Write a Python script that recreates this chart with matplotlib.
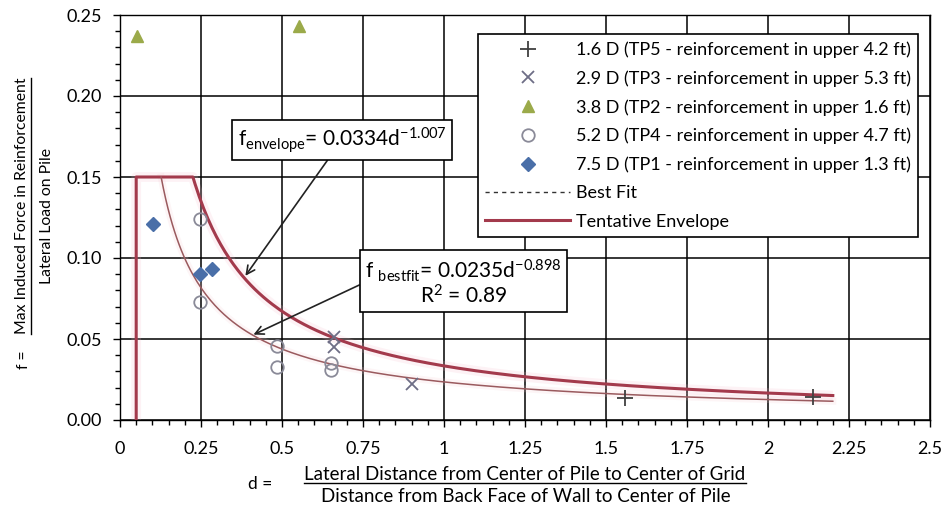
import numpy as np
import matplotlib
matplotlib.use('Agg')
import matplotlib.pyplot as plt
from matplotlib.lines import Line2D
from matplotlib.ticker import MultipleLocator, FormatStrFormatter, FuncFormatter

plt.rcParams['font.family'] = ['Lato', 'DejaVu Sans']
plt.rcParams['mathtext.default'] = 'regular'

# ---------------- data ----------------
tp5_d = [1.56, 2.14]
tp5_f = [0.0136, 0.0143]
tp3_d = [0.66, 0.66, 0.90]
tp3_f = [0.051, 0.045, 0.022]
tp2_d = [0.053, 0.551]
tp2_f = [0.237, 0.243]
tp4_d = [0.248, 0.248, 0.485, 0.485, 0.65, 0.65]
tp4_f = [0.124, 0.073, 0.0455, 0.033, 0.035, 0.031]
tp1_d = [0.102, 0.248, 0.284]
tp1_f = [0.121, 0.090, 0.093]

series_labels = [
    "1.6 D (TP5 - reinforcement in upper 4.2 ft)",
    "2.9 D (TP3 - reinforcement in upper 5.3 ft)",
    "3.8 D (TP2 - reinforcement in upper 1.6 ft)",
    "5.2 D (TP4 - reinforcement in upper 4.7 ft)",
    "7.5 D (TP1 - reinforcement in upper 1.3 ft)",
    "Best Fit",
    "Tentative Envelope",
]

# power-law fits shown on the chart
fit_a, fit_b = 0.0235, -0.898
env_a, env_b = 0.0334, -1.007
env_start_d = 0.05
env_cap = 0.15
curve_end_d = 2.2

x_ticks = [0, 0.25, 0.5, 0.75, 1, 1.25, 1.5, 1.75, 2, 2.25, 2.5]
y_ticks = [0.00, 0.05, 0.10, 0.15, 0.20, 0.25]

# ---------------- figure ----------------
fig = plt.figure(figsize=(9.46, 5.07), dpi=100)
ax = fig.add_axes([120/946, 1-420/507, 810/946, 405/507])

ax.set_xlim(0, 2.5)
ax.set_ylim(0, 0.25)
ax.set_xticks(x_ticks)
ax.set_yticks(y_ticks)
ax.xaxis.set_minor_locator(MultipleLocator(0.05))
ax.yaxis.set_minor_locator(MultipleLocator(0.01))
ax.xaxis.set_major_formatter(FuncFormatter(lambda v, p: f"{v:g}"))
ax.yaxis.set_major_formatter(FormatStrFormatter('%.2f'))
ax.tick_params(which='major', direction='out', length=5, width=1, labelsize=13, colors='black')
ax.tick_params(which='minor', direction='out', length=3.5, width=1)
ax.tick_params(axis='x', pad=10)
ax.tick_params(axis='y', pad=8)
ax.grid(which='major', color='black', lw=1.1)
ax.set_axisbelow(True)
for s in ax.spines.values():
    s.set_color('black')
    s.set_linewidth(1.0)

# envelope
d_cap = (env_cap / env_a) ** (1 / env_b)
dc = np.linspace(d_cap, curve_end_d, 300)
env_x = np.concatenate([[env_start_d, env_start_d], dc])
env_y = np.concatenate([[0.0, env_cap], env_a * dc ** env_b])
ax.plot(env_x, env_y, color='#F4B8C8', lw=7, alpha=0.18, solid_capstyle='butt', zorder=2)
ax.plot(env_x, env_y, color='#A33A4C', lw=2.2, zorder=3)

# best fit
d_fit0 = (env_cap / fit_a) ** (1 / fit_b)
df = np.linspace(d_fit0, curve_end_d, 300)
ax.plot(df, fit_a * df ** fit_b, color='#F4C8D0', lw=5, alpha=0.18, zorder=2)
ax.plot(df, fit_a * df ** fit_b, color='#9A5A5E', lw=1.1, zorder=3)

# data markers
h5, = ax.plot(tp5_d, tp5_f, ls='none', marker='+', ms=11, mew=1.3, color='#404040', zorder=5)
h3, = ax.plot(tp3_d, tp3_f, ls='none', marker='x', ms=9, mew=1.3, color='#6E6E86', zorder=5)
h2, = ax.plot(tp2_d, tp2_f, ls='none', marker='^', ms=9, color='#9BAA4A', zorder=5)
h4, = ax.plot(tp4_d, tp4_f, ls='none', marker='o', ms=9, mfc='none', mew=1.3, mec='#8A8A98', zorder=5)
h1, = ax.plot(tp1_d, tp1_f, ls='none', marker='D', ms=7.5, color='#4A6FA8', zorder=5)

hbf = Line2D([], [], color='#333333', lw=1, ls=(0, (3, 3)))
henv = Line2D([], [], color='#A33A4C', lw=2.2)

leg = ax.legend([h5, h3, h2, h4, h1, hbf, henv], series_labels,
                loc='upper right', bbox_to_anchor=(0.985, 0.953), borderaxespad=0,
                fancybox=False, edgecolor='black', framealpha=1, fontsize=13,
                handlelength=4.7, handletextpad=0.3, labelspacing=0.68, borderpad=0.4)
leg.get_frame().set_linewidth(1.2)
leg.set_zorder(6)

# annotations
ax.annotate(r"f$_{envelope}$= 0.0334d$^{-1.007}$",
            xy=(0.387, 0.089), xytext=(0.685, 0.173), textcoords='data',
            ha='center', va='center', fontsize=15,
            bbox=dict(boxstyle='square,pad=0.25', fc='white', ec='black', lw=1.2),
            arrowprops=dict(arrowstyle='->', color='#222222', lw=1.2,
                            relpos=(0.45, 0), shrinkA=0, shrinkB=0),
            zorder=7)
ax.annotate("f $_{bestfit}$= 0.0235d$^{-0.898}$\nR$^{2}$ = 0.89",
            xy=(0.412, 0.0527), xytext=(1.06, 0.085), textcoords='data',
            ha='center', va='center', fontsize=15, multialignment='center',
            linespacing=1.0,
            bbox=dict(boxstyle='square,pad=0.25', fc='white', ec='black', lw=1.2),
            arrowprops=dict(arrowstyle='->', color='#222222', lw=1.2,
                            relpos=(0, 0.5), shrinkA=0, shrinkB=0),
            zorder=7)

# axis labels (fraction style)
num_y = fig.text(22/946, 1-206/507, "Max Induced Force in Reinforcement",
                 rotation=90, ha='center', va='center', fontsize=11.3)
fig.text(47/946, 1-216/507, "Lateral Load on Pile", rotation=90,
         ha='center', va='center', fontsize=11.3)
fig.text(24/946, 1-360/507, "f =", rotation=90, ha='center', va='center', fontsize=11.3)

num_x = fig.text(525/946, 1-474/507, "Lateral Distance from Center of Pile to Center of Grid",
                 ha='center', va='center', fontsize=13.5)
fig.text(526/946, 1-497/507, "Distance from Back Face of Wall to Center of Pile",
         ha='center', va='center', fontsize=13.5)
fig.text(260/946, 1-484/507, "d =", ha='center', va='center', fontsize=12.5)

fig.canvas.draw()
r = fig.canvas.get_renderer()
inv = fig.transFigure.inverted()
bb = num_x.get_window_extent(r).transformed(inv)
fig.add_artist(Line2D([bb.x0, bb.x1], [1-483/507, 1-483/507], color='black', lw=1,
                      transform=fig.transFigure))
bb = num_y.get_window_extent(r).transformed(inv)
fig.add_artist(Line2D([31/946, 31/946], [bb.y0, bb.y1], color='black', lw=1,
                      transform=fig.transFigure))

fig.savefig('out.png', dpi=100)
